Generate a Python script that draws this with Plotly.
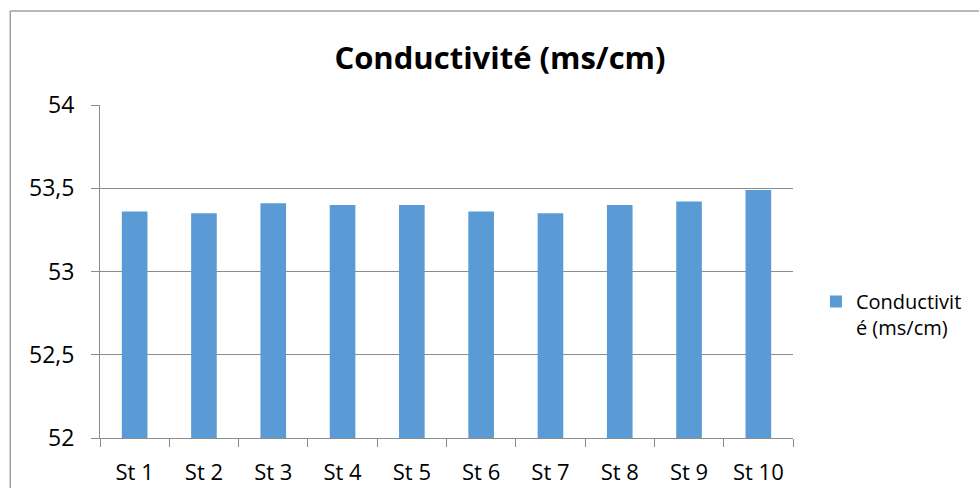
import plotly.graph_objects as go

stations = ["St 1", "St 2", "St 3", "St 4", "St 5", "St 6", "St 7", "St 8", "St 9", "St 10"]
conductivity = [53.36, 53.35, 53.41, 53.40, 53.40, 53.36, 53.35, 53.40, 53.42, 53.49]
y_ticks = [52, 52.5, 53, 53.5, 54]
y_tick_labels = ["52", "52,5", "53", "53,5", "54"]

W, H = 979, 488
ML, MR, MT, MB = 100, 184, 105, 50
pw, ph = W - ML - MR, H - MT - MB

def px_x(x):
    return (x - ML) / pw

def px_y(y):
    return (H - MB - y) / ph

FONT = "Open Sans"
GRID = "#8c8c8c"

fig = go.Figure(
    go.Bar(
        x=stations,
        y=conductivity,
        name="Conductivit<br>é (ms/cm)",
        marker=dict(color="#5b9bd5", line=dict(width=0)),
        showlegend=True,
    )
)

fig.update_layout(
    width=W,
    height=H,
    margin=dict(l=ML, r=MR, t=MT, b=MB),
    paper_bgcolor="white",
    plot_bgcolor="white",
    bargap=0.63,
    font=dict(family=FONT, color="#000000"),
    title=dict(
        text="<b>Conductivité (ms/cm)</b>",
        x=500 / W,
        xanchor="center",
        y=1 - 58 / H,
        yanchor="middle",
        font=dict(family=FONT, size=31, color="#000000"),
    ),
    legend=dict(
        x=px_x(818),
        y=px_y(282),
        xanchor="left",
        yanchor="top",
        valign="top",
        font=dict(family=FONT, size=20, color="#000000"),
        bgcolor="rgba(0,0,0,0)",
        itemwidth=30,
    ),
    shapes=[
        dict(type="line", xref="paper", yref="paper",
             x0=px_x(10), x1=px_x(10), y0=px_y(11), y1=px_y(500),
             line=dict(color="#a0a0a0", width=1.5)),
        dict(type="line", xref="paper", yref="paper",
             x0=px_x(10), x1=px_x(990), y0=px_y(11), y1=px_y(11),
             line=dict(color="#a0a0a0", width=1.5)),
    ],
)

fig.update_yaxes(
    range=[52, 54],
    tickvals=y_ticks,
    ticktext=y_tick_labels,
    showgrid=True,
    gridcolor=GRID,
    gridwidth=1,
    showline=True,
    linecolor=GRID,
    linewidth=1,
    ticks="outside",
    ticklen=8,
    tickcolor=GRID,
    ticklabelstandoff=12,
    tickfont=dict(family=FONT, size=23, color="#000000"),
    zeroline=False,
    automargin=False,
)

fig.update_xaxes(
    showline=True,
    linecolor=GRID,
    linewidth=1,
    ticks="outside",
    tickson="boundaries",
    ticklen=8,
    tickcolor=GRID,
    ticklabelstandoff=15,
    tickfont=dict(family=FONT, size=22, color="#000000"),
    showgrid=False,
    automargin=False,
)

fig.write_html("out.html")
